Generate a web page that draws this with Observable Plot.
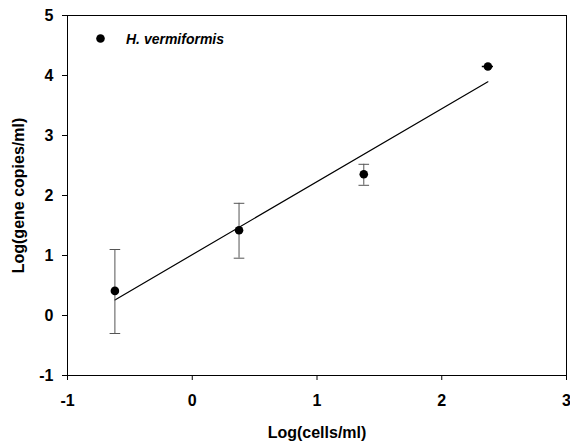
<!DOCTYPE html>
<html>
<head>
<meta charset="utf-8">
<script src="https://cdn.jsdelivr.net/npm/d3@7"></script>
<script src="https://cdn.jsdelivr.net/npm/@observablehq/plot@0.6"></script>
<style>
  html, body { margin: 0; padding: 0; background: #fff; }
</style>
</head>
<body>
<div id="chart"></div>
<script>
// Data
const logCells   = [-0.62, 0.375, 1.375, 2.37];
const logCopies  = [0.41, 1.42, 2.355, 4.15];
const copiesLow  = [-0.30, 0.955, 2.17, 4.15];
const copiesHigh = [1.10, 1.87, 2.52, 4.15];
const cellsLow   = [-0.62, 0.375, 1.375, 2.325];
const cellsHigh  = [-0.62, 0.375, 1.375, 2.415];
const fitX = [-0.62, 2.37];
const fitY = [0.26, 3.895];
const xTicks = [-1, 0, 1, 2, 3];
const yTicks = [-1, 0, 1, 2, 3, 4, 5];
const seriesName = "H. vermiformis";
const xLabel = "Log(cells/ml)";
const yLabel = "Log(gene copies/ml)";

const points = logCells.map((x, i) => ({
  x, y: logCopies[i], y1: copiesLow[i], y2: copiesHigh[i], x1: cellsLow[i], x2: cellsHigh[i]
}));
const fit = fitX.map((x, i) => ({x, y: fitY[i]}));
const vErr = points.filter(d => d.y1 !== d.y2);
const hErr = points.filter(d => d.x1 !== d.x2);

const capSymbol = {
  draw(context, size) {
    const r = Math.sqrt(size / Math.PI);
    context.moveTo(-r, 0);
    context.lineTo(r, 0);
  }
};
const errColor = "#555";

const chart = Plot.plot({
  width: 570,
  height: 442,
  marginLeft: 67,
  marginRight: 4,
  marginTop: 15,
  marginBottom: 67,
  style: {fontFamily: "'Liberation Sans', Arial, sans-serif", fontSize: "16px", fontWeight: "bold", background: "#fff", color: "black"},
  x: {domain: [-1, 3]},
  y: {domain: [-1, 5]},
  marks: [
    Plot.axisX({ticks: xTicks, tickSize: 5, tickPadding: 14, tickFormat: d => String(d), label: null, fontSize: 16, fontWeight: "bold"}),
    Plot.axisY({ticks: yTicks, tickSize: 5, tickPadding: 9, tickFormat: d => String(d), label: null, fontSize: 16, fontWeight: "bold"}),
    Plot.frame({stroke: "black", strokeWidth: 1}),
    Plot.line(fit, {x: "x", y: "y", stroke: "black", strokeWidth: 1.2}),
    Plot.ruleX(vErr, {x: "x", y1: "y1", y2: "y2", stroke: errColor, strokeWidth: 1}),
    Plot.dot(vErr, {x: "x", y: "y1", symbol: capSymbol, r: 5.3, stroke: errColor, fill: "none", strokeWidth: 1}),
    Plot.dot(vErr, {x: "x", y: "y2", symbol: capSymbol, r: 5.3, stroke: errColor, fill: "none", strokeWidth: 1}),
    Plot.ruleY(hErr, {y: "y", x1: "x1", x2: "x2", stroke: "black", strokeWidth: 1.5}),
    Plot.dot(points, {x: "x", y: "y", r: 4.3, fill: "black", stroke: "none"}),
    // legend
    Plot.dot([seriesName], {frameAnchor: "top-left", dx: 33, dy: 23, r: 4.3, fill: "black", stroke: "none"}),
    Plot.text([seriesName], {frameAnchor: "top-left", dx: 58.5, dy: 24, text: d => d, textAnchor: "start", lineAnchor: "middle", fontSize: 14, fontWeight: "bold", fontStyle: "italic", fill: "black"}),
    // axis titles
    Plot.text([xLabel], {frameAnchor: "bottom", dy: 57, text: d => d, textAnchor: "middle", lineAnchor: "middle", fontSize: 16, fontWeight: "bold", fill: "black"}),
    Plot.text([yLabel], {frameAnchor: "left", dx: -49, rotate: -90, text: d => d, textAnchor: "middle", lineAnchor: "middle", fontSize: 16, fontWeight: "bold", fill: "black"})
  ]
});
document.getElementById("chart").appendChild(chart);
</script>
</body>
</html>
